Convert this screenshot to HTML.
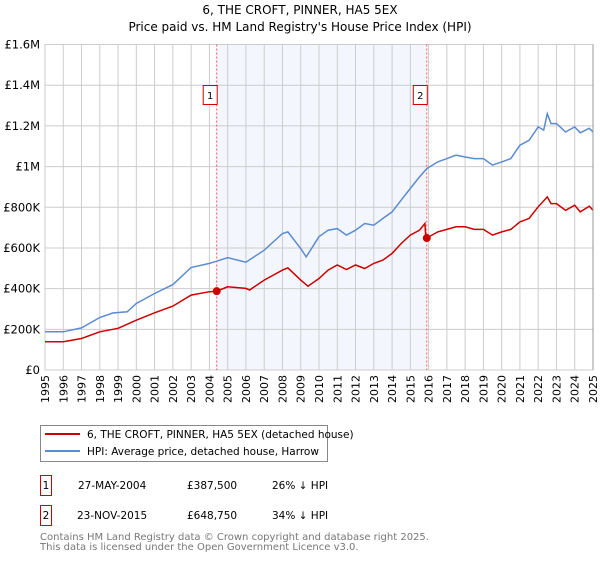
<!DOCTYPE html>
<html><head><meta charset="utf-8"><style>
body{margin:0;background:#fff;font-family:"Liberation Sans","DejaVu Sans",sans-serif;}
svg text{font-family:"DejaVu Sans","Liberation Sans",sans-serif;}
</style></head><body>
<svg id="c" width="600" height="560" xmlns="http://www.w3.org/2000/svg">
<text x="300" y="14" text-anchor="middle" font-size="12">6, THE CROFT, PINNER, HA5 5EX</text>
<text x="300" y="31" text-anchor="middle" font-size="12">Price paid vs. HM Land Registry's House Price Index (HPI)</text>
<g id="grid"></g><g id="marks"></g><g id="axes"></g>
<g>
<rect x="40.5" y="425.5" width="287" height="36" fill="#fff" stroke="#888"/>
<line x1="45" y1="434" x2="80" y2="434" stroke="#cc0000" stroke-width="2"/>
<text x="87" y="438" font-size="10.5">6, THE CROFT, PINNER, HA5 5EX (detached house)</text>
<line x1="45" y1="451" x2="80" y2="451" stroke="#5b8bd0" stroke-width="2"/>
<text x="87" y="455" font-size="10.5">HPI: Average price, detached house, Harrow</text>
</g>
<g font-size="10.5">
<rect x="40.5" y="475.5" width="11" height="20" fill="#fff" stroke="#cc0000"/><text x="46" y="489" text-anchor="middle">1</text>
<text x="78" y="489">27-MAY-2004</text><text x="187" y="489">£387,500</text><text x="272" y="489">26% ↓ HPI</text>
<rect x="40.5" y="505.5" width="11" height="20" fill="#fff" stroke="#cc0000"/><text x="46" y="519" text-anchor="middle">2</text>
<text x="77" y="519">23-NOV-2015</text><text x="187" y="519">£648,750</text><text x="272" y="519">34% ↓ HPI</text>
</g>
<text x="40" y="540" font-size="10" fill="#777">Contains HM Land Registry data © Crown copyright and database right 2025.</text>
<text x="40" y="550" font-size="10" fill="#777">This data is licensed under the Open Government Licence v3.0.</text>
</svg>
<script>
const hpiYears=[1995,1996,1997,1998,1998.7,1999.5,2000,2001,2002,2003,2004,2004.4,2005,2006,2007,2008,2008.3,2009,2009.3,2010,2010.5,2011,2011.5,2012,2012.5,2013,2013.5,2014,2014.5,2015,2015.5,2015.9,2016.5,2017,2017.5,2018,2018.5,2019,2019.5,2020,2020.5,2021,2021.5,2022,2022.3,2022.5,2022.7,2023,2023.5,2024,2024.3,2024.8,2025];
const hpiValues=[188,188,207,258,280,286,327,376,420,504,524,535,552,530,589,671,679,597,556,655,687,695,663,687,720,712,745,777,835,892,949,990,1023,1039,1056,1047,1039,1039,1007,1023,1039,1105,1129,1195,1179,1260,1211,1211,1170,1195,1166,1188,1170];
const propYears=[1995,1996,1997,1998,1999,2000,2001,2002,2003,2004,2004.4,2005,2006,2006.2,2007,2008,2008.3,2009,2009.4,2010,2010.5,2011,2011.5,2012,2012.5,2013,2013.5,2014,2014.5,2015,2015.5,2015.8,2015.85,2015.9,2016.5,2017,2017.5,2018,2018.5,2019,2019.5,2020,2020.5,2021,2021.5,2022,2022.5,2022.7,2023,2023.5,2024,2024.3,2024.8,2025];
const propValues=[139,139,155,188,205,245,281,314,368,385,387.5,409,401,393,442,491,502,442,412,450,491,516,494,516,499,524,540,573,622,663,687,720,646,648.75,679,691,704,704,691,691,663,679,691,728,745,802,851,818,818,785,810,777,805,785];
const saleYears=[2004.4,2015.9];
const saleValues=[387.5,648.75];
const saleLabels=["1","2"];
const yTicks=[0,200,400,600,800,1000,1200,1400,1600];
const yTickLabels=["£0","£200K","£400K","£600K","£800K","£1M","£1.2M","£1.4M","£1.6M"];
const xTicks=[1995,1996,1997,1998,1999,2000,2001,2002,2003,2004,2005,2006,2007,2008,2009,2010,2011,2012,2013,2014,2015,2016,2017,2018,2019,2020,2021,2022,2023,2024,2025];

const X0=45,X1=593,Y0=370,Y1=44.5;
const x=y=>X0+(y-1995)/30*(X1-X0);
const yv=v=>Y0-v/1600*(Y0-Y1);
const NS="http://www.w3.org/2000/svg";
function mk(tag,attrs,parent,txt){const e=document.createElementNS(NS,tag);for(const k in attrs)e.setAttribute(k,attrs[k]);if(txt!=null)e.textContent=txt;document.getElementById(parent).appendChild(e);return e;}
// shade
let sh=mk('rect',{x:x(saleYears[0]),y:Y1,width:x(saleYears[1])-x(saleYears[0]),height:Y0-Y1,fill:'#eef3fc',opacity:0.7},'grid');


xTicks.forEach(t=>{
  let l=mk('line',{x1:x(t),x2:x(t),y1:Y1,y2:Y0,stroke:'#ccc'},'grid');
  
  
  let tx=mk('text',{x:0,y:0,'font-size':11,'text-anchor':'end',transform:`translate(${x(t)+4},${Y0+5}) rotate(-90)`},'axes',String(t));
  
  
});
yTicks.forEach((t,i)=>{
  let l=mk('line',{x1:X0,x2:X1,y1:yv(t),y2:yv(t),stroke:'#ccc'},'grid');
  
  
  let tx=mk('text',{x:X0-5,y:yv(t)+4,'font-size':11.5,'text-anchor':'end'},'axes',yTickLabels[i]);
  
  
});
saleYears.forEach((s,i)=>{
  let l=mk('line',{x1:x(s),x2:x(s),y1:Y1,y2:Y0,stroke:'#ff5555','stroke-dasharray':'2,2'},'grid');
  
  
  let r=mk('rect',{x:x(s)-13.5,y:85.5,width:14,height:19,fill:'#fff',stroke:'#cc0000'},'axes');
  
  
  let t=mk('text',{x:x(s)-6.5,y:99,'font-size':10,'text-anchor':'middle'},'axes',saleLabels[i]);
  
  
});
const path=(ys,vs)=>ys.map((a,i)=>(i?'L':'M')+x(a).toFixed(1)+','+yv(vs[i]).toFixed(1)).join('');
let hp=mk('path',{d:path(hpiYears,hpiValues),fill:'none',stroke:'#5b8bd0','stroke-width':1.5},'marks');


let pp=mk('path',{d:path(propYears,propValues),fill:'none',stroke:'#cc0000','stroke-width':1.5},'marks');


saleYears.forEach((s,i)=>{
  let c=mk('circle',{cx:x(s),cy:yv(saleValues[i]),r:4,fill:'#cc0000'},'marks');
  
  
});
let ax=mk('line',{x1:X1,x2:X1,y1:Y1,y2:Y0,stroke:'#999'},'axes');


</script>
</body></html>
